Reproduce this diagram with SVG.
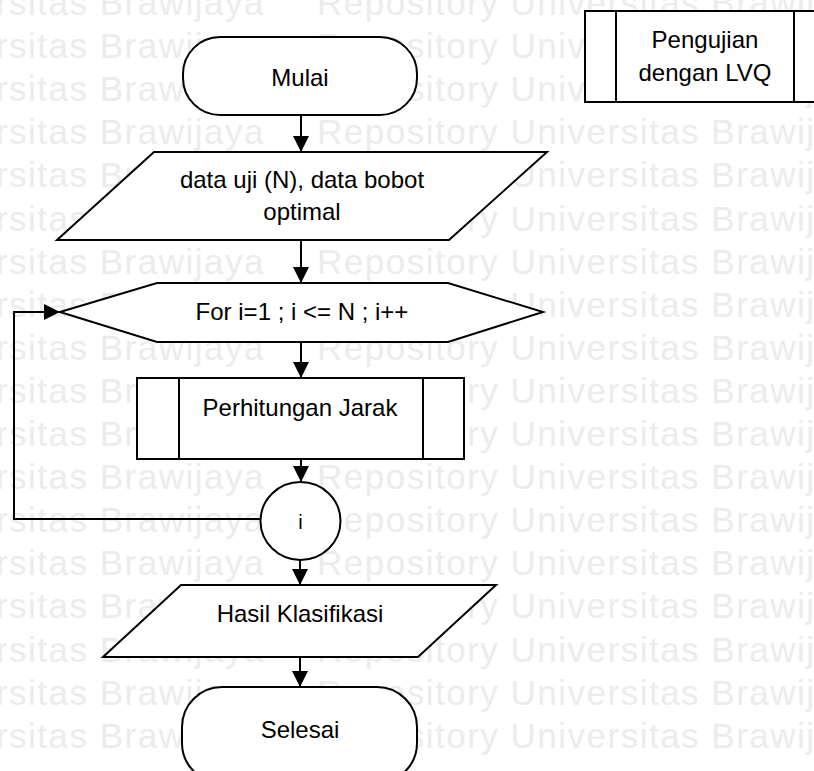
<svg xmlns="http://www.w3.org/2000/svg" width="814" height="771" viewBox="0 0 814 771">
  <style>
    .wm { font-family: "Liberation Sans", Arial, sans-serif; font-size: 35px; fill: #ececec; letter-spacing: 1.5px; }
    .shape { fill: #ffffff; stroke: #000000; stroke-width: 2; }
    .inner { fill: none; stroke: #000000; stroke-width: 2; }
    .conn { fill: none; stroke: #000000; stroke-width: 2; }
    .lbl { font-family: "Liberation Sans", Arial, sans-serif; font-size: 24px; fill: #000000; text-anchor: middle; }
  </style>
  <defs>
    <marker id="arrow" markerUnits="userSpaceOnUse" markerWidth="16" markerHeight="16" viewBox="0 0 16 16" refX="16" refY="8" orient="auto">
      <path d="M0,0 L16,8 L0,16 Z" fill="#000000"/>
    </marker>
  </defs>

  <rect x="0" y="0" width="814" height="771" fill="#ffffff"/>

  <!-- background repository stamp -->
  <g id="watermark">
    <text class="wm" x="265" y="15" text-anchor="end">Universitas Brawijaya</text><text class="wm" x="317" y="15">Repository Universitas Brawijaya</text>
    <text class="wm" x="265" y="58.1" text-anchor="end">Universitas Brawijaya</text><text class="wm" x="317" y="58.1">Repository Universitas Brawijaya</text>
    <text class="wm" x="265" y="101.2" text-anchor="end">Universitas Brawijaya</text><text class="wm" x="317" y="101.2">Repository Universitas Brawijaya</text>
    <text class="wm" x="265" y="144.3" text-anchor="end">Universitas Brawijaya</text><text class="wm" x="317" y="144.3">Repository Universitas Brawijaya</text>
    <text class="wm" x="265" y="187.4" text-anchor="end">Universitas Brawijaya</text><text class="wm" x="317" y="187.4">Repository Universitas Brawijaya</text>
    <text class="wm" x="265" y="230.5" text-anchor="end">Universitas Brawijaya</text><text class="wm" x="317" y="230.5">Repository Universitas Brawijaya</text>
    <text class="wm" x="265" y="273.6" text-anchor="end">Universitas Brawijaya</text><text class="wm" x="317" y="273.6">Repository Universitas Brawijaya</text>
    <text class="wm" x="265" y="316.7" text-anchor="end">Universitas Brawijaya</text><text class="wm" x="317" y="316.7">Repository Universitas Brawijaya</text>
    <text class="wm" x="265" y="359.8" text-anchor="end">Universitas Brawijaya</text><text class="wm" x="317" y="359.8">Repository Universitas Brawijaya</text>
    <text class="wm" x="265" y="402.9" text-anchor="end">Universitas Brawijaya</text><text class="wm" x="317" y="402.9">Repository Universitas Brawijaya</text>
    <text class="wm" x="265" y="446" text-anchor="end">Universitas Brawijaya</text><text class="wm" x="317" y="446">Repository Universitas Brawijaya</text>
    <text class="wm" x="265" y="489.1" text-anchor="end">Universitas Brawijaya</text><text class="wm" x="317" y="489.1">Repository Universitas Brawijaya</text>
    <text class="wm" x="265" y="532.2" text-anchor="end">Universitas Brawijaya</text><text class="wm" x="317" y="532.2">Repository Universitas Brawijaya</text>
    <text class="wm" x="265" y="575.3" text-anchor="end">Universitas Brawijaya</text><text class="wm" x="317" y="575.3">Repository Universitas Brawijaya</text>
    <text class="wm" x="265" y="618.4" text-anchor="end">Universitas Brawijaya</text><text class="wm" x="317" y="618.4">Repository Universitas Brawijaya</text>
    <text class="wm" x="265" y="661.5" text-anchor="end">Universitas Brawijaya</text><text class="wm" x="317" y="661.5">Repository Universitas Brawijaya</text>
    <text class="wm" x="265" y="704.6" text-anchor="end">Universitas Brawijaya</text><text class="wm" x="317" y="704.6">Repository Universitas Brawijaya</text>
    <text class="wm" x="265" y="747.7" text-anchor="end">Universitas Brawijaya</text><text class="wm" x="317" y="747.7">Repository Universitas Brawijaya</text>
  </g>

  <!-- connectors -->
  <g id="connectors">
    <line class="conn" x1="301" y1="115" x2="301" y2="152" marker-end="url(#arrow)"/>
    <line class="conn" x1="301" y1="240" x2="301" y2="283" marker-end="url(#arrow)"/>
    <line class="conn" x1="301" y1="342" x2="301" y2="378" marker-end="url(#arrow)"/>
    <line class="conn" x1="301" y1="459" x2="301" y2="482" marker-end="url(#arrow)"/>
    <line class="conn" x1="300" y1="560" x2="300" y2="585" marker-end="url(#arrow)"/>
    <line class="conn" x1="300" y1="657" x2="300" y2="687" marker-end="url(#arrow)"/>
    <polyline class="conn" points="261,519 14,519 14,312 60,312" marker-end="url(#arrow)"/>
  </g>

  <!-- title block -->
  <g id="node-pengujian">
    <rect class="shape" x="585" y="11" width="240" height="91"/>
    <line class="inner" x1="616" y1="11" x2="616" y2="102"/>
    <line class="inner" x1="794" y1="11" x2="794" y2="102"/>
    <text class="lbl" x="705" y="47.5">Pengujian</text>
    <text class="lbl" x="705" y="81">dengan LVQ</text>
  </g>

  <g id="node-mulai">
    <rect class="shape" x="183" y="37" width="234" height="78" rx="37" ry="37"/>
    <text class="lbl" x="300" y="86">Mulai</text>
  </g>

  <g id="node-input">
    <polygon class="shape" points="154,152 547,152 449,240 57,240"/>
    <text class="lbl" x="302" y="188">data uji (N), data bobot</text>
    <text class="lbl" x="302" y="220">optimal</text>
  </g>

  <g id="node-loop">
    <polygon class="shape" points="60,312 157,283 448,283 543,312 448,342 157,342"/>
    <text class="lbl" x="302" y="320">For i=1 ; i &lt;= N ; i++</text>
  </g>

  <g id="node-jarak">
    <rect class="shape" x="137" y="378" width="327" height="81"/>
    <line class="inner" x1="179" y1="378" x2="179" y2="459"/>
    <line class="inner" x1="423" y1="378" x2="423" y2="459"/>
    <text class="lbl" x="300" y="415.5">Perhitungan Jarak</text>
  </g>

  <g id="node-i">
    <ellipse class="shape" cx="300.5" cy="521" rx="40" ry="39"/>
    <text class="lbl" x="300.5" y="529" style="font-size:20px">i</text>
  </g>

  <g id="node-hasil">
    <polygon class="shape" points="181,585 496,585 418,657 103,657"/>
    <text class="lbl" x="300" y="621.5">Hasil Klasifikasi</text>
  </g>

  <g id="node-selesai">
    <rect class="shape" x="182" y="687" width="235" height="96" rx="40" ry="40"/>
    <text class="lbl" x="300" y="737.5">Selesai</text>
  </g>
</svg>
